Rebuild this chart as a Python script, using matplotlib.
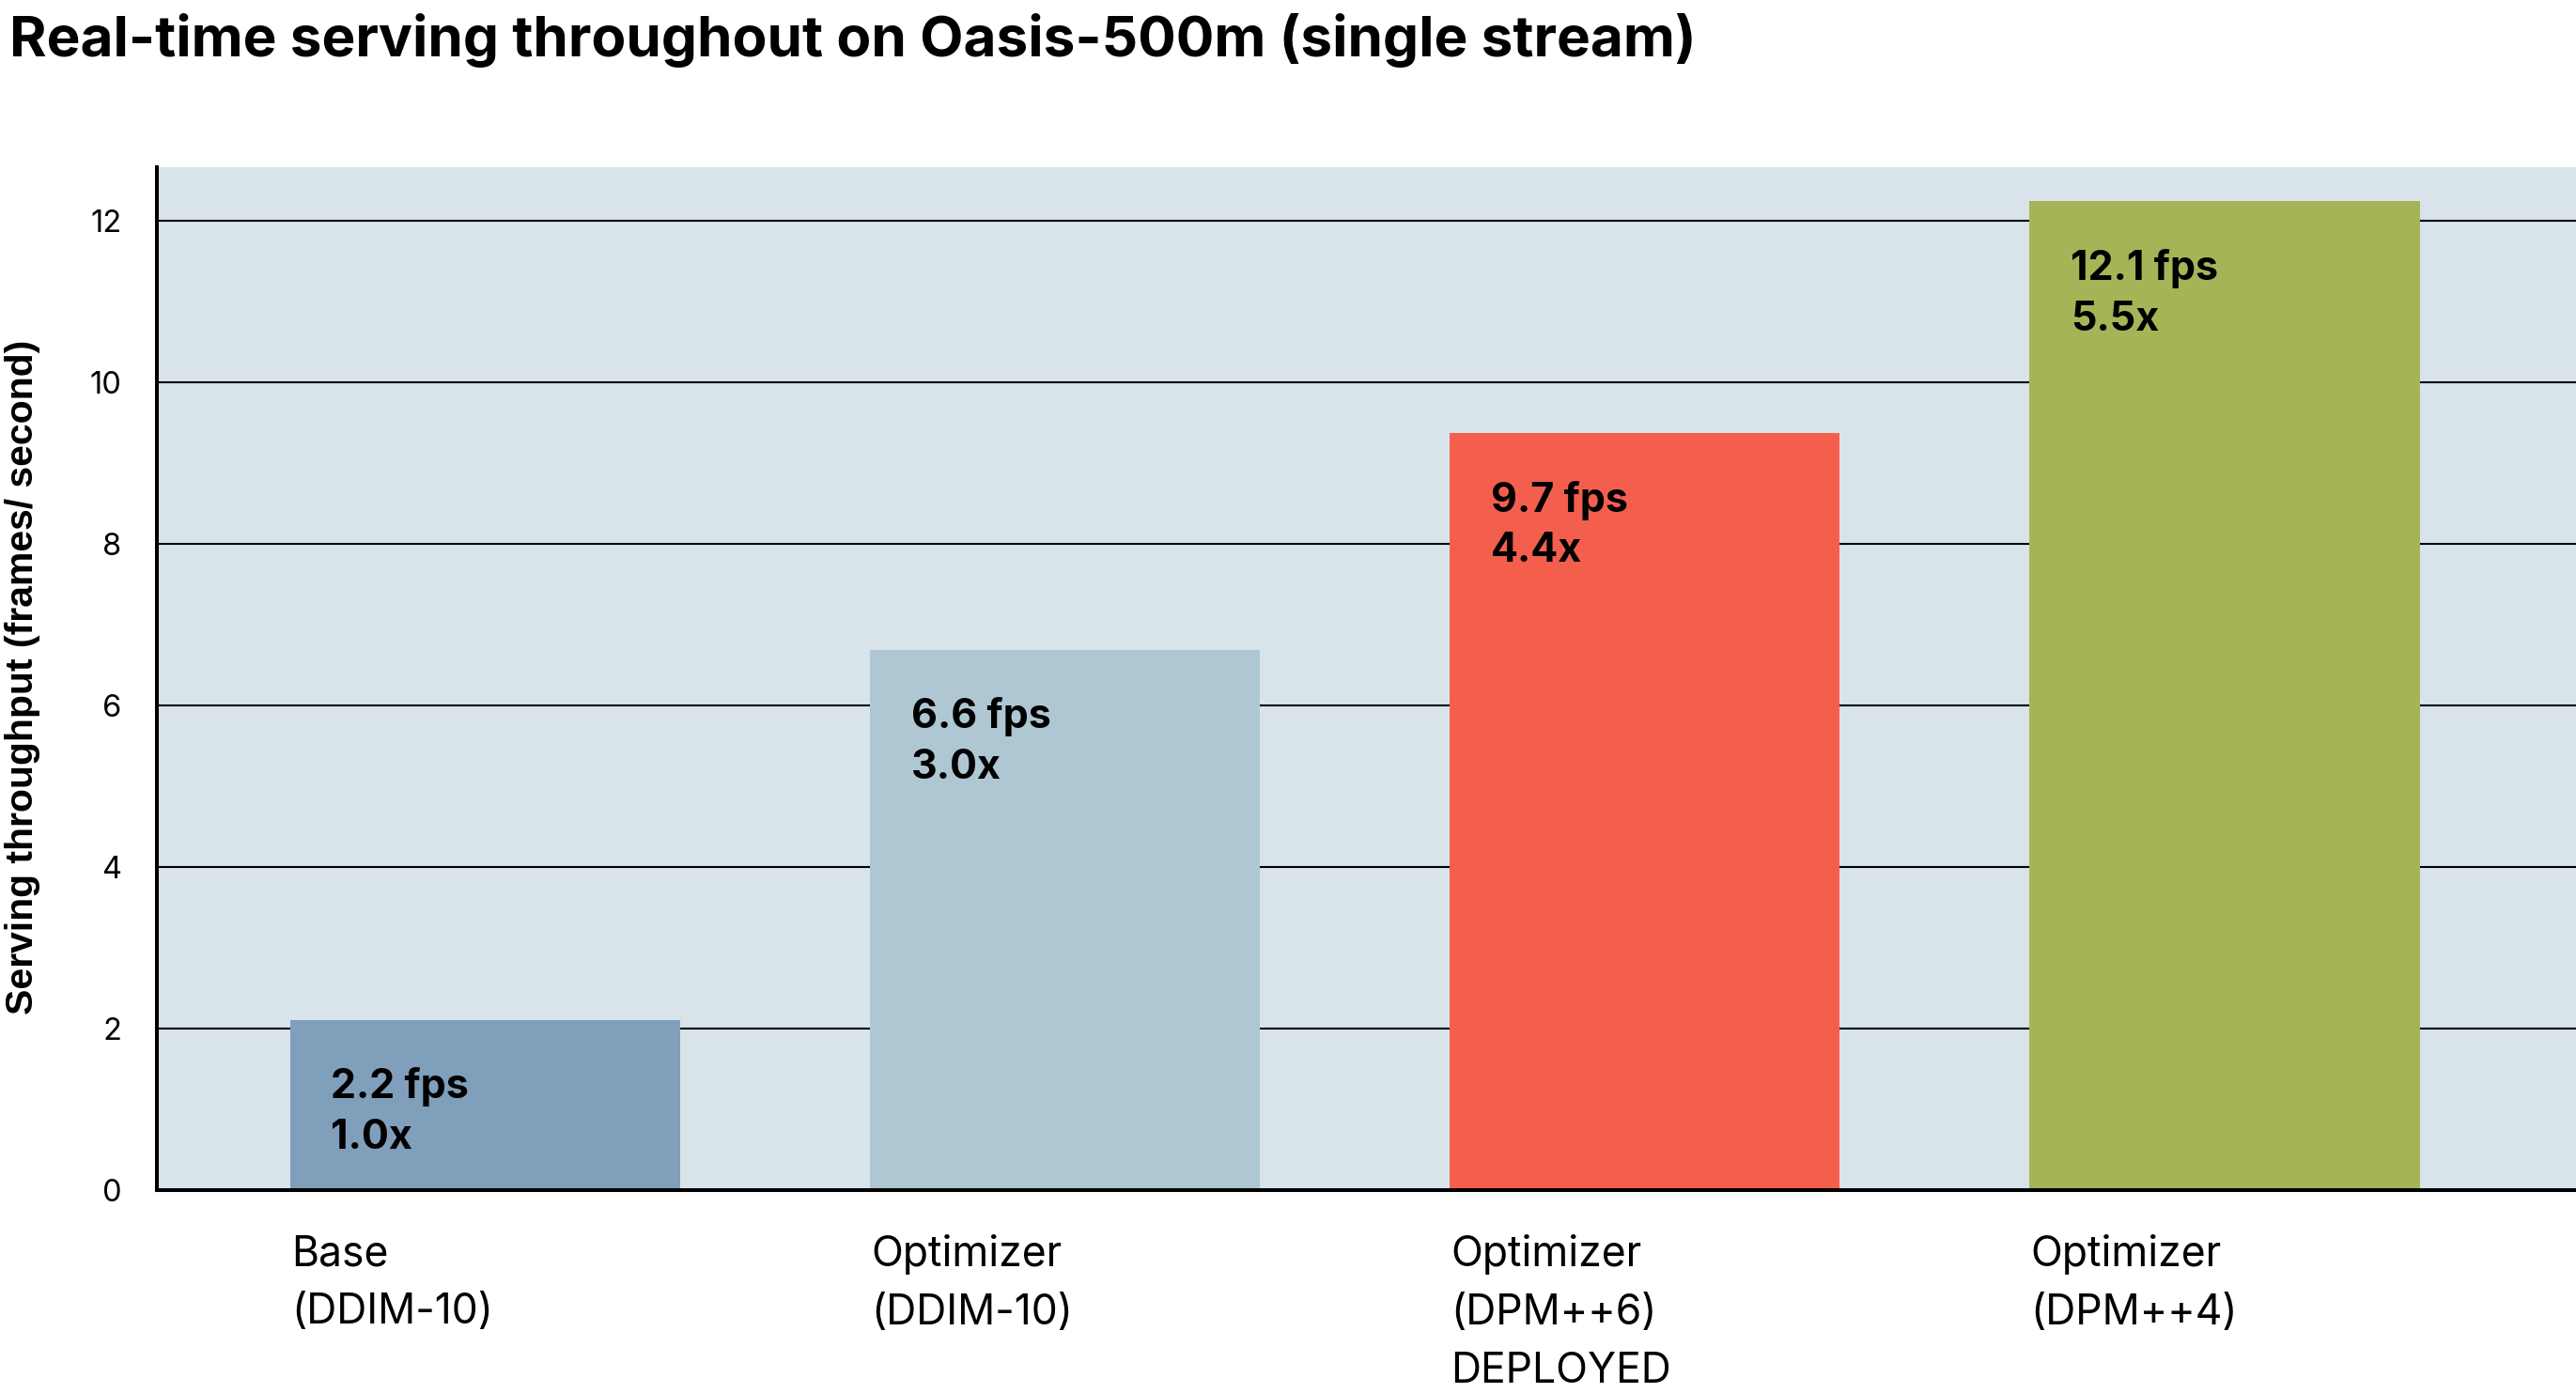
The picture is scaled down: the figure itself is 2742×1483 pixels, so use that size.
import matplotlib
matplotlib.use("Agg")
import matplotlib.pyplot as plt
import numpy as np

plt.rcParams['font.family'] = ['Inter', 'DejaVu Sans']

# ---- data ----
categories = ["Base\n(DDIM-10)", "Optimizer\n(DDIM-10)", "Optimizer\n(DPM++6)\nDEPLOYED", "Optimizer\n(DPM++4)"]
values = [2.11, 6.69, 9.37, 12.24]
bar_labels = ["2.2 fps\n1.0x", "6.6 fps\n3.0x", "9.7 fps\n4.4x", "12.1 fps\n5.5x"]
colors = ["#7F9FBB", "#AFC7D3", "#F45F4D", "#A6B457"]
yticks = [0, 2, 4, 6, 8, 10, 12]
title = "Real-time serving throughout on Oasis-500m (single stream)"
ylabel = "Serving throughput (frames/ second)"

W, H = 2742, 1483
fig = plt.figure(figsize=(W / 100, H / 100), dpi=100)
ax = fig.add_axes([167 / W, 1 - 1267 / H, 1 - 167 / W, (1267 - 178) / H])
ax.set_facecolor("#D8E4EA")

x = np.arange(len(values))
bw = 0.673
ax.bar(x, values, width=bw, color=colors, zorder=3)
ax.set_xlim(-0.566, 3.606)
ax.set_ylim(0, 12.66)

ax.set_yticks(yticks)
ax.set_yticklabels([str(t) for t in yticks], fontsize=23.5)
ax.tick_params(axis='y', length=0, pad=27)
ax.set_xticks([])
ax.yaxis.grid(True, color="black", linewidth=1.5, zorder=1)
ax.set_axisbelow(True)

for s in ["top", "right"]:
    ax.spines[s].set_visible(False)
for s in ["left", "bottom"]:
    ax.spines[s].set_linewidth(2.9)
    ax.spines[s].set_color("black")
    ax.spines[s].set_zorder(5)

for xi, v, lab in zip(x, values, bar_labels):
    ax.annotate(lab, xy=(xi - bw / 2, v), xytext=(31.5, -36.5), textcoords="offset points",
                ha="left", va="top", fontsize=31, fontweight="bold", linespacing=1.4, zorder=6)

for xi, cat in zip(x, categories):
    ax.annotate(cat, xy=(xi - bw / 2, 0), xytext=(1, -34), textcoords="offset points",
                ha="left", va="top", fontsize=32, linespacing=1.6, annotation_clip=False)

fig.text(10 / W, 1 - 60 / H, title, fontsize=43.4, fontweight="bold", ha="left", va="baseline")
fig.text(24 / W, 1 - 721 / H, ylabel, fontsize=29.5, fontweight="bold", rotation=90,
         ha="center", va="center", family=["Liberation Sans", "DejaVu Sans"])

fig.savefig("out.png", dpi=100)
